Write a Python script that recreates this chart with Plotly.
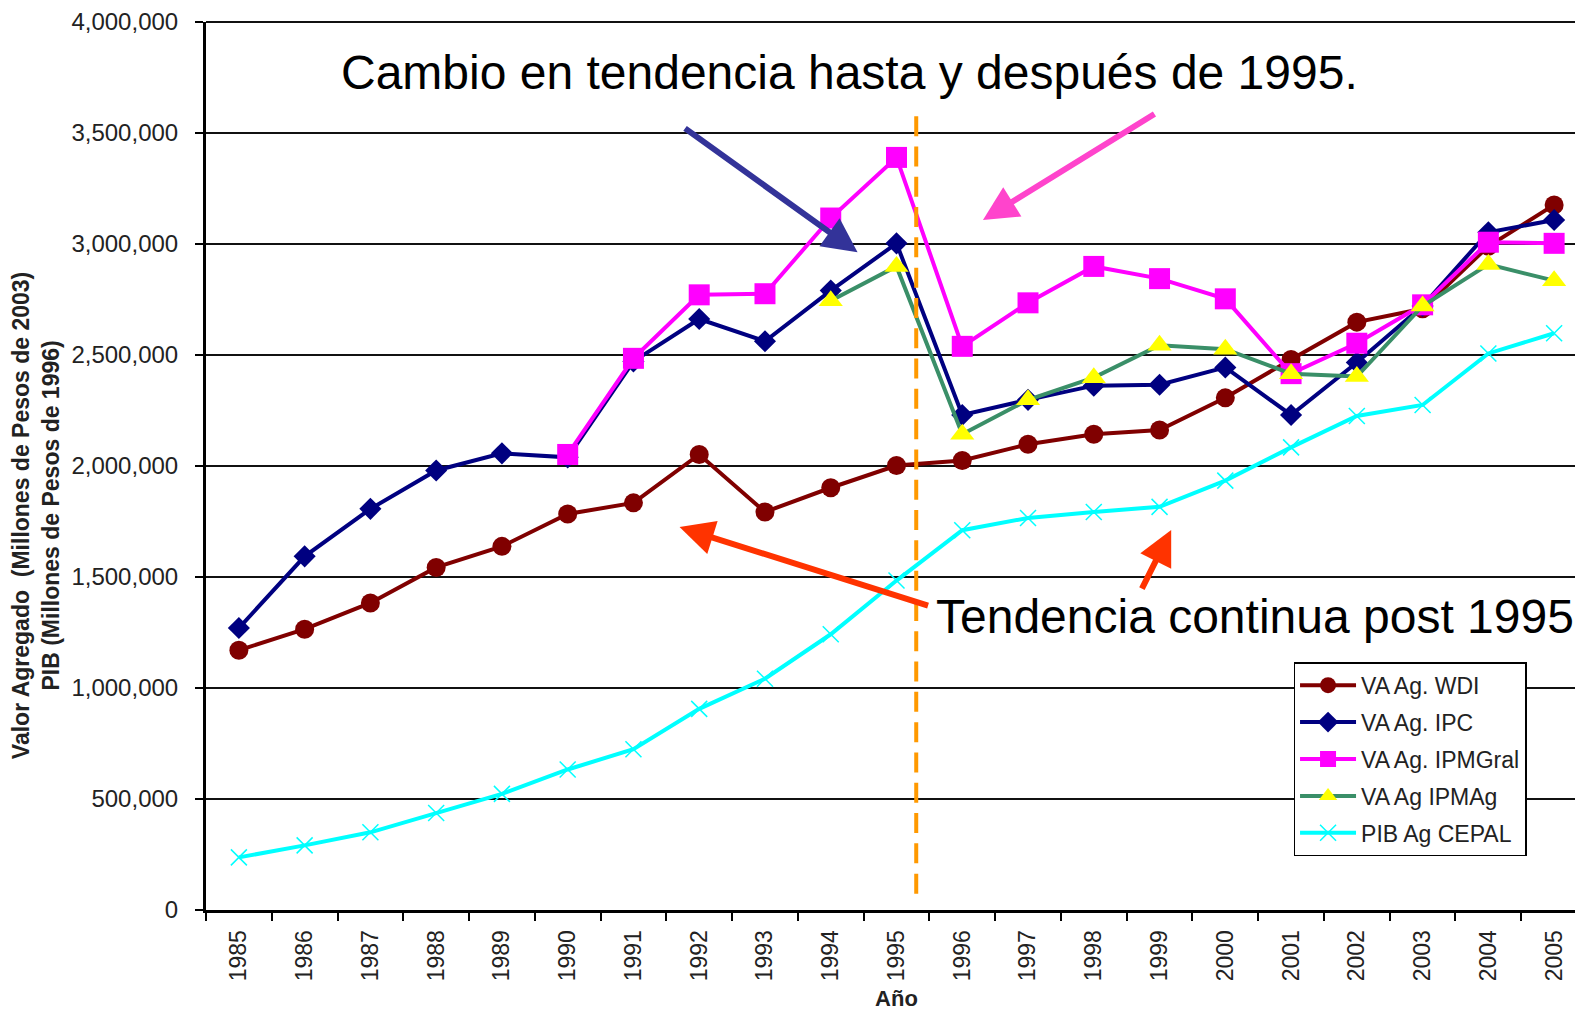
import plotly.graph_objects as go

years = [str(y) for y in range(1985, 2006)]

va_wdi = [1170000, 1265000, 1383000, 1543000, 1638000, 1784000, 1834000, 2052000, 1793000, 1902000,
          2002000, 2025000, 2098000, 2143000, 2162000, 2307000, 2480000, 2648000, 2708000, 2990000, 3176000]
va_ipc = [1270000, 1593000, 1807000, 1980000, 2057000, 2039000, 2471000, 2662000, 2562000, 2790000,
          3003000, 2230000, 2298000, 2362000, 2366000, 2444000, 2230000, 2466000, 2721000, 3053000, 3108000]
va_ipmgral = [None, None, None, None, None, 2052000, 2485000, 2771000, 2776000, 3117000,
              3390000, 2539000, 2735000, 2899000, 2844000, 2753000, 2416000, 2553000, 2726000, 3008000, 3003000]
va_ipmag = [None, None, None, None, None, None, None, None, None, 2744000,
            2899000, 2143000, 2298000, 2398000, 2544000, 2526000, 2416000, 2403000, 2721000, 2908000, 2835000]
pib_cepal = [237000, 291000, 350000, 437000, 523000, 633000, 724000, 906000, 1042000, 1242000,
             1484000, 1711000, 1766000, 1793000, 1816000, 1934000, 2084000, 2225000, 2275000, 2507000, 2598000]

names = ["VA Ag. WDI", "VA Ag. IPC", "VA Ag. IPMGral", "VA Ag IPMAg", "PIB Ag CEPAL"]

FONT = "Arial, 'Liberation Sans', sans-serif"

fig = go.Figure()
fig.add_trace(go.Scatter(x=years, y=va_wdi, name=names[0], mode="lines+markers", legendgroup="a",
                         line=dict(color="#800000", width=4),
                         marker=dict(symbol="circle", size=19, color="#800000")))
fig.add_trace(go.Scatter(x=years, y=va_ipc, name=names[1], mode="lines+markers", legendgroup="b",
                         line=dict(color="#000080", width=4),
                         marker=dict(symbol="diamond", size=17, color="#000080")))
fig.add_trace(go.Scatter(x=years, y=va_ipmgral, name=names[2], mode="lines+markers", legendgroup="c",
                         line=dict(color="#FF00FF", width=4),
                         marker=dict(symbol="square", size=21, color="#FF00FF")))
fig.add_trace(go.Scatter(x=years, y=va_ipmag, name=names[3], mode="lines+markers", legendgroup="d",
                         line=dict(color="#3A8F68", width=4),
                         marker=dict(symbol="triangle-up", size=21, color="#FFFF00")))
fig.add_trace(go.Scatter(x=years, y=pib_cepal, name=names[4], mode="lines+markers", legendgroup="e",
                         line=dict(color="#00FFFF", width=4),
                         marker=dict(symbol="x-thin-open", size=16, color="#00FFFF",
                                     line=dict(color="#00FFFF", width=1.5))))

# vertical dashed line after 1995 (drawn from top down)
fig.add_shape(type="line", xref="x", yref="paper", x0=10.3, x1=10.3, y0=0.894, y1=0.018,
              line=dict(color="#FF9900", width=4, dash="20px,10.3px"))
# top and right border
fig.add_shape(type="line", xref="paper", yref="paper", x0=0, x1=1, y0=1, y1=1,
              line=dict(color="#111111", width=2))
fig.add_shape(type="line", xref="paper", yref="paper", x0=1, x1=1, y0=0, y1=1,
              line=dict(color="#888888", width=1))

arrows = [
    dict(x=0.4718, y=0.7406, ax=-174, ay=-125, color="#333399"),
    dict(x=0.5626, y=0.7770, ax=173, ay=-107, color="#FF44CC"),
    dict(x=0.3429, y=0.4312, ax=250, ay=79, color="#FF3300"),
    dict(x=0.6989, y=0.4278, ax=-30, ay=60, color="#FF3300"),
]
for a in arrows:
    fig.add_annotation(x=a["x"], y=a["y"], xref="paper", yref="paper", ax=a["ax"], ay=a["ay"],
                       text="", showarrow=True, arrowhead=2, arrowsize=1.15, arrowwidth=6,
                       arrowcolor=a["color"])

fig.add_annotation(x=0.4659, y=0.943, xref="paper", yref="paper", showarrow=False,
                   xanchor="center", yanchor="middle",
                   text="Cambio en tendencia hasta y después de 1995.",
                   font=dict(family=FONT, size=48, color="black"))
fig.add_annotation(x=0.7597, y=0.331, xref="paper", yref="paper", showarrow=False,
                   xanchor="center", yanchor="middle",
                   text="Tendencia continua post 1995",
                   font=dict(family=FONT, size=48, color="black"))

# y-axis title (two lines)
fig.add_annotation(x=-0.123, y=0.4437, xref="paper", yref="paper", showarrow=False,
                   xanchor="center", yanchor="middle", textangle=-90,
                   text="<b>Valor Agregado  (Millones de Pesos de 2003)<br>PIB (Millones de Pesos de 1996)</b>",
                   font=dict(family=FONT, size=23, color="#222222"))

fig.update_layout(
    width=1583, height=1009,
    margin=dict(l=198, r=4, t=14, b=107),
    paper_bgcolor="white", plot_bgcolor="white",
    font=dict(family=FONT, color="#222222"),
    legend=dict(x=0.7875, y=0.279, xanchor="left", yanchor="top",
                bordercolor="black", borderwidth=1.5, bgcolor="white",
                font=dict(family=FONT, size=23, color="#222222"),
                itemwidth=56, tracegroupgap=4),
    xaxis=dict(type="category", range=[-0.5, 20.5], tickson="boundaries", automargin=False,
               ticks="outside", ticklen=8, tickwidth=2, tickcolor="black",
               showline=True, linecolor="black", linewidth=3, showgrid=False,
               tickangle=-90, tickfont=dict(family=FONT, size=23, color="#222222"),
               ticklabelstandoff=8,
               title=dict(text="<b>Año</b>", font=dict(family=FONT, size=22, color="#222222"),
                          standoff=11)),
    yaxis=dict(range=[0, 4000000], dtick=500000, tickformat=",d", automargin=False,
               ticks="outside", ticklen=8, tickwidth=2, tickcolor="black",
               showline=True, linecolor="black", linewidth=3,
               showgrid=True, gridcolor="#111111", gridwidth=2, zeroline=False,
               tickfont=dict(family=FONT, size=24, color="#222222"),
               ticklabelstandoff=12),
)

fig.write_html("out.html")
